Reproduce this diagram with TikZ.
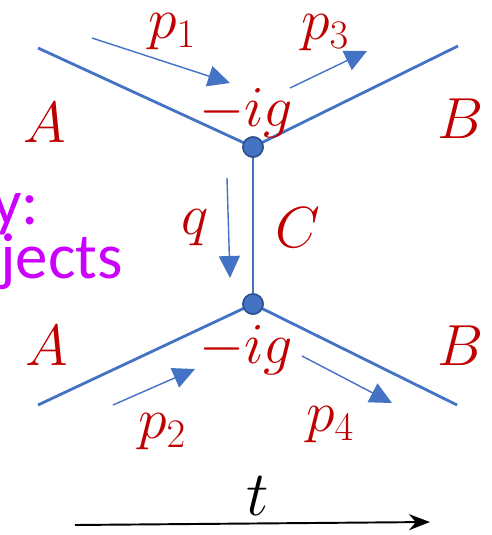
\documentclass[tikz,border=0pt]{standalone}
\usepackage{fix-cm}
\usepackage{fontspec}
\newfontfamily\slidefont{Carlito}
\usetikzlibrary{arrows.meta}
\definecolor{lineblue}{RGB}{68,114,196}
\definecolor{darkblue}{RGB}{47,82,143}
\definecolor{labred}{RGB}{192,0,0}
\definecolor{textmag}{RGB}{204,0,255}

\begin{document}
\begin{tikzpicture}[
    x=0.02cm, y=-0.02cm,
    leg/.style={line width=1.6pt, lineblue},
    vertex/.style={circle, fill=lineblue, draw=darkblue, line width=0.9pt,
                   minimum size=0.4cm, inner sep=0pt},
    mom/.style={line width=0.8pt, lineblue,
                -{Triangle[length=0.44cm, width=0.42cm]}},
    lab/.style={text=labred, font=\fontsize{33}{35}\selectfont, inner sep=0pt},
    slide/.style={text=textmag, font=\slidefont\fontsize{37}{40}\selectfont,
                  anchor=base west, inner sep=0pt},
]
\useasboundingbox (0,0) rectangle (492,535);

% Vertices
\node[vertex] (vtop) at (253,147) {};
\node[vertex] (vbot) at (253,304) {};

% External legs
\coordinate (inA) at (38,48);
\coordinate (outB) at (458,46);
\coordinate (inA2) at (38,405);
\coordinate (outB2) at (457,405);
\draw[leg] (inA) -- (vtop.center) -- (outB);
\draw[leg] (inA2) -- (vbot.center) -- (outB2);

% Propagator
\draw[leg] (vtop) -- (vbot);
\node[vertex] at (vtop) {};
\node[vertex] at (vbot) {};

% Momentum arrows
\coordinate (p1s) at (92,38);   \coordinate (p1e) at (230,83);
\coordinate (p3s) at (290,88);  \coordinate (p3e) at (367,51);
\coordinate (qs)  at (227,178); \coordinate (qe)  at (230,278);
\coordinate (p2s) at (113,405); \coordinate (p2e) at (195,369);
\coordinate (p4s) at (302,356); \coordinate (p4e) at (392,403);
\draw[mom] (p1s) -- (p1e);
\draw[mom] (p3s) -- (p3e);
\draw[mom] (qs) -- (qe);
\draw[mom] (p2s) -- (p2e);
\draw[mom] (p4s) -- (p4e);

% Labels
\node[lab] (lp1) at (172,32) {$p_1$};
\node[lab] (lp3) at (325,33) {$p_3$};
\node[lab] (lA)  at (45,123) {$A$};
\node[lab] (lB)  at (461,119) {$B$};
\node[lab] (lg1) at (246,113) {$-ig$};
\node[lab] (lq)  at (195,228) {$q$};
\node[lab] (lC)  at (298,228) {$C$};
\node[lab] (lA2) at (47,346) {$A$};
\node[lab] (lB2) at (461,346) {$B$};
\node[lab] (lg2) at (246,350) {$-ig$};
\node[lab] (lp2) at (162,432) {$p_2$};
\node[lab] (lp4) at (330,425) {$p_4$};

% Time axis
\coordinate (ts) at (75,525);
\coordinate (te) at (430,522);
\draw[line width=1.1pt, -{Stealth[length=0.42cm, width=0.32cm]}] (ts) -- (te);
\node[font=\fontsize{36}{38}\selectfont, inner sep=0pt] (lt) at (258,496) {$t$};

% Clipped slide text
\node[slide] (ly) at (-8,224) {y:};
\node[slide] (lj) at (0,278) {jects};
\end{tikzpicture}
\end{document}
